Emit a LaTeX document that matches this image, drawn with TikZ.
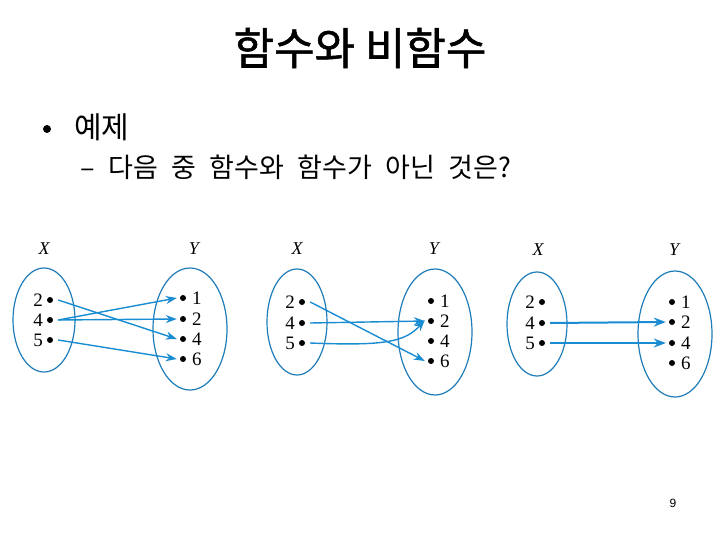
\documentclass[tikz,border=0pt]{standalone}
\usepackage{fontspec}
\setmainfont{Liberation Serif}
\newfontfamily\kr{Noto Sans CJK KR}
\newfontfamily\krt[FakeBold=1.2]{Noto Sans CJK KR}
\newfontfamily\pgnum{Liberation Sans}
\usetikzlibrary{arrows.meta}
\definecolor{ellc}{RGB}{30,125,185}
\definecolor{arrc}{RGB}{25,140,210}
\newcommand{\wsp}{\hspace{0.5em}}
\begin{document}
\begin{tikzpicture}[x=1pt,y=-1pt,
  setell/.style={draw=ellc,line width=1.2pt},
  pt/.style={circle,fill=black,inner sep=0pt,minimum size=6pt},
  num/.style={font=\fontsize{19}{19}\selectfont,inner sep=0pt},
  lab/.style={font=\fontsize{18}{18}\selectfont\itshape,inner sep=0pt},
  mapar/.style={draw=arrc,line width=1.4pt,-{Stealth[length=11pt,width=8pt]}},
  mapthick/.style={draw=arrc,line width=2pt,-{Stealth[length=12pt,width=9pt]}}]
\useasboundingbox (0,0) rectangle (720,540);
\fill[white] (0,0) rectangle (720,540);
% title and text
\node[font=\krt\fontsize{44}{44}\selectfont,inner sep=0pt] (title) at (360,48) {함수와 비함수};
\node[circle,fill=black,inner sep=0pt,minimum size=8pt] (bul) at (47,129) {};
\node[font=\kr\fontsize{30}{30}\selectfont,inner sep=0pt,anchor=west] (ex) at (74,127) {예제};
\node[font=\kr\fontsize{27}{27}\selectfont,inner sep=0pt,anchor=west] (q) at (80,167) {–\wsp 다음\wsp 중\wsp 함수와\wsp 함수가\wsp 아닌\wsp 것은?};
\node[font=\pgnum\fontsize{12}{12}\selectfont,inner sep=0pt] (pg) at (673,503) {9};

% ---------- diagram 1 ----------
\node[lab] (x1) at (44,249) {X};
\node[lab] (y1) at (194,249) {Y};
\draw[setell] (44,320) ellipse [x radius=31,y radius=52];
\draw[setell] (190,329) ellipse [x radius=37,y radius=61];
\node[pt] (a2) at (50,300) {}; \node[num,anchor=east] at (43,300) {2};
\node[pt] (a4) at (50,320) {}; \node[num,anchor=east] at (43,320) {4};
\node[pt] (a5) at (50,340) {}; \node[num,anchor=east] at (43,340) {5};
\node[pt] (b1) at (183,298) {}; \node[num,anchor=west] at (192,298) {1};
\node[pt] (b2) at (183,319) {}; \node[num,anchor=west] at (192,319) {2};
\node[pt] (b4) at (183,339) {}; \node[num,anchor=west] at (192,339) {4};
\node[pt] (b6) at (183,359) {}; \node[num,anchor=west] at (192,359) {6};
\draw[mapar] ([xshift=5pt]a2.east) -- ([xshift=-3pt]b4.west);
\draw[mapar] ([xshift=5pt]a4.east) -- ([xshift=-3pt]b1.west);
\draw[mapar] ([xshift=5pt]a4.east) -- ([xshift=-3pt]b2.west);
\draw[mapar] ([xshift=5pt]a5.east) -- ([xshift=-3pt]b6.west);

% ---------- diagram 2 ----------
\node[lab] (x2) at (297,249) {X};
\node[lab] (y2) at (434,249) {Y};
\draw[setell] (297,322) ellipse [x radius=30,y radius=53];
\draw[setell] (435,332) ellipse [x radius=37,y radius=63];
\node[pt] (c2) at (302,302) {}; \node[num,anchor=east] at (295,302) {2};
\node[pt] (c4) at (302,323) {}; \node[num,anchor=east] at (295,323) {4};
\node[pt] (c5) at (302,343) {}; \node[num,anchor=east] at (295,343) {5};
\node[pt] (d1) at (431,301) {}; \node[num,anchor=west] at (440,301) {1};
\node[pt] (d2) at (431,321) {}; \node[num,anchor=west] at (440,321) {2};
\node[pt] (d4) at (431,341) {}; \node[num,anchor=west] at (440,341) {4};
\node[pt] (d6) at (431,361) {}; \node[num,anchor=west] at (440,361) {6};
\draw[mapar] ([xshift=5pt]c2.east) -- ([xshift=-3pt]d6.west);
\draw[mapar] ([xshift=5pt]c4.east) -- ([xshift=-3pt]d2.west);
\draw[mapar] ([xshift=5pt]c5.east) .. controls (385,346) and (405,342) .. ([shift={(-4pt,3pt)}]d2.south west);

% ---------- diagram 3 ----------
\node[lab] (x3) at (538,250) {X};
\node[lab] (y3) at (674,250) {Y};
\draw[setell] (537,324) ellipse [x radius=30,y radius=52];
\draw[setell] (675,334) ellipse [x radius=37,y radius=63];
\node[pt] (e2) at (542,302) {}; \node[num,anchor=east] at (535,302) {2};
\node[pt] (e4) at (542,323) {}; \node[num,anchor=east] at (535,323) {4};
\node[pt] (e5) at (542,343) {}; \node[num,anchor=east] at (535,343) {5};
\node[pt] (f1) at (672,302) {}; \node[num,anchor=west] at (681,302) {1};
\node[pt] (f2) at (672,322) {}; \node[num,anchor=west] at (681,322) {2};
\node[pt] (f4) at (672,343) {}; \node[num,anchor=west] at (681,343) {4};
\node[pt] (f6) at (672,363) {}; \node[num,anchor=west] at (681,363) {6};
\draw[mapthick] ([xshift=5pt]e4.east) -- ([xshift=-3pt]f2.west);
\draw[mapthick] ([xshift=5pt]e5.east) -- ([xshift=-3pt]f4.west);
\end{tikzpicture}
\end{document}
